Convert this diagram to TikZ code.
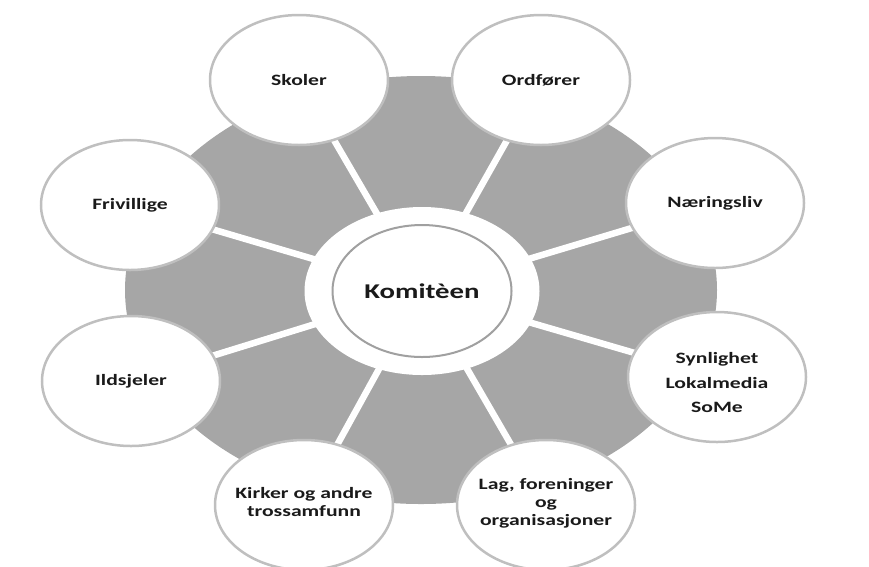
\documentclass[tikz,border=0pt]{standalone}
\usepackage{fontspec}
\setmainfont{Carlito}
\usepackage{graphicx}
\usetikzlibrary{shapes.geometric,backgrounds}
\definecolor{diskgray}{HTML}{A6A6A6}
\definecolor{rimgray}{HTML}{BFBFBF}
\definecolor{inrim}{HTML}{A0A0A0}
\definecolor{txt}{HTML}{1A1A1A}
\newcommand\stx[1]{\scalebox{1.37}[1]{#1}}
\begin{document}
\begin{tikzpicture}[x=1pt,y=-1pt,
  outer/.style={ellipse, draw=rimgray, line width=2.5pt, fill=white,
    minimum width=178pt, minimum height=130pt, inner sep=0pt},
  lbl/.style={font=\fontsize{15.8}{18}\selectfont\bfseries, text=txt,
    align=center, inner sep=0pt},
  spoke/.style={draw=white, line width=6.5pt}]
\useasboundingbox (0,0) rectangle (869,566);
% centre
\node[ellipse, fill=white, minimum width=235pt, minimum height=168pt, inner sep=0pt] (ring) at (422,291) {};
\node[ellipse, fill=white, draw=inrim, line width=2pt, minimum width=179pt,
  minimum height=132pt, inner sep=0pt, font=\fontsize{21}{25}\selectfont\bfseries,
  text=txt] (kom) at (422,291) {\stx{Komitèen}};
% outer circles
\node[outer] (sk) at (299,80) {};
\node[outer] (or) at (541,80) {};
\node[outer] (na) at (715,203) {};
\node[outer] (sy) at (717,377) {};
\node[outer] (la) at (546,505) {};
\node[outer] (ki) at (304,505) {};
\node[outer] (il) at (131,381) {};
\node[outer] (fr) at (130,205) {};
% labels
\node[lbl] (skt) at (sk) {\stx{Skoler}};
\node[lbl] (ort) at (or) {\stx{Ordfører}};
\node[lbl] (nat) at (na) {\stx{Næringsliv}};
\node[lbl, font=\fontsize{15.8}{24.5}\selectfont\bfseries] (syt) at ([yshift=-6pt]sy.center) {\stx{Synlighet}\\\stx{Lokalmedia}\\\stx{SoMe}};
\node[lbl] (lat) at ([yshift=2pt]la.center) {\stx{Lag, foreninger}\\\stx{og}\\\stx{organisasjoner}};
\node[lbl] (kit) at ([yshift=3pt]ki.center) {\stx{Kirker og andre}\\\stx{trossamfunn}};
\node[lbl] (ilt) at (il) {\stx{Ildsjeler}};
\node[lbl] (frt) at (fr) {\stx{Frivillige}};
\begin{scope}[on background layer]
\fill[diskgray] (421,290) ellipse [x radius=296pt, y radius=214pt];
\foreach \n in {sk,or,na,sy,la,ki,il,fr}
  \draw[spoke] (kom.center) -- (\n.center);
\end{scope}
\end{tikzpicture}
\end{document}
